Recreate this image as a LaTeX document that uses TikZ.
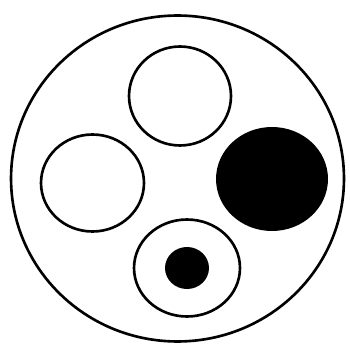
\documentclass[tikz,border=0pt]{standalone}
\usepackage{tikz}
\usetikzlibrary{shapes.geometric}

\begin{document}
\begin{tikzpicture}[
  x=0.02cm, y=-0.02cm,
  ring/.style={ellipse, draw, line width=1.5pt, inner sep=0pt},
  core/.style={ellipse, fill=black, inner sep=0pt}
  ]
  \useasboundingbox (0,0) rectangle (350,347);
  \node[ring, minimum width=6.66cm, minimum height=6.52cm] (outer) at (177.5,178.5) {};
  \node[ring, minimum width=2.04cm, minimum height=1.98cm] (top) at (180,96) {};
  \node[ring, minimum width=2.06cm, minimum height=1.94cm] (left) at (92.5,183) {};
  \node[core, minimum width=2.24cm, minimum height=2.08cm] (right) at (272,179) {};
  \node[ring, minimum width=2.12cm, minimum height=1.94cm] (bottom) at (187,268) {};
  \node[core, minimum width=0.88cm, minimum height=0.84cm] (dot) at (bottom.center) {};
\end{tikzpicture}
\end{document}
